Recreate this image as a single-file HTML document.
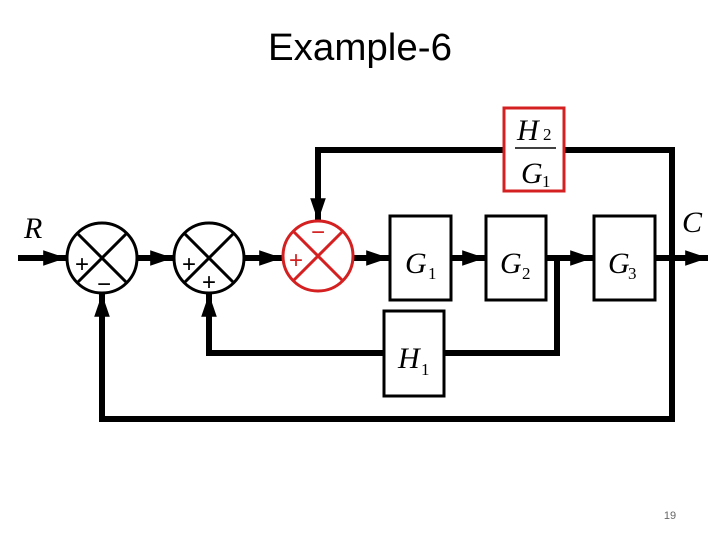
<!DOCTYPE html>
<html><head><meta charset="utf-8"><style>html,body{margin:0;padding:0;background:#fff}svg{display:block}</style></head>
<body>
<svg width="720" height="540" viewBox="0 0 720 540" xmlns="http://www.w3.org/2000/svg">
<defs>
<marker id="a" markerWidth="3.8" markerHeight="2.6" refX="3.8" refY="1.3" orient="auto" markerUnits="strokeWidth"><path d="M0,0L3.8,1.3L0,2.6z" fill="#000"/></marker>
</defs>
<text x="360" y="60" font-family="Liberation Sans, sans-serif" font-size="38" text-anchor="middle" textLength="184" lengthAdjust="spacingAndGlyphs">Example-6</text>
<text x="670" y="519" font-family="Liberation Sans, sans-serif" font-size="11" fill="#666" text-anchor="middle">19</text>
<g stroke="#000" stroke-width="6" fill="none">
<line x1="18" y1="258" x2="66" y2="258" marker-end="url(#a)"/>
<line x1="137" y1="258" x2="173" y2="258" marker-end="url(#a)"/>
<line x1="244" y1="258" x2="282" y2="258" marker-end="url(#a)"/>
<line x1="353" y1="258" x2="389" y2="258" marker-end="url(#a)"/>
<line x1="451" y1="258" x2="485" y2="258" marker-end="url(#a)"/>
<line x1="546" y1="258" x2="593" y2="258" marker-end="url(#a)"/>
<line x1="655" y1="258" x2="708" y2="258" marker-end="url(#a)"/>
<polyline points="557,258 557,353 444,353"/>
<polyline points="384,353 209,353 209,294" marker-end="url(#a)"/>
<polyline points="672,150 672,419 102,419 102,294" marker-end="url(#a)"/>
<polyline points="504,150 318,150 318,221" marker-end="url(#a)"/>
<line x1="564" y1="150" x2="675" y2="150"/>
</g>
<g stroke="#000" stroke-width="3" fill="#fff">
<rect x="390" y="216" width="61" height="84"/>
<rect x="486" y="216" width="60" height="84"/>
<rect x="594" y="216" width="61" height="84"/>
<rect x="384" y="311" width="60" height="85"/>
</g>
<rect x="504" y="108" width="60" height="83" stroke="#d42020" stroke-width="3" fill="#fff"/>
<g stroke-width="3" fill="#fff">
<circle cx="102" cy="258" r="35" stroke="#000"/>
<circle cx="209" cy="258" r="35" stroke="#000"/>
<circle cx="318" cy="256" r="35" stroke="#d42020"/>
</g>
<g stroke-width="3">
<path d="M77,233L127,283M127,233L77,283" stroke="#000"/>
<path d="M184,233L234,283M234,233L184,283" stroke="#000"/>
<path d="M293,231L343,281M343,231L293,281" stroke="#d42020"/>
</g>
<g font-family="Liberation Sans, sans-serif" font-size="24">
<text x="82" y="272" text-anchor="middle">+</text>
<text x="104" y="292" text-anchor="middle">−</text>
<text x="189" y="272" text-anchor="middle">+</text>
<text x="209" y="290" text-anchor="middle">+</text>
<text x="296" y="268" text-anchor="middle" fill="#d42020">+</text>
<text x="318" y="240" text-anchor="middle" fill="#d42020">−</text>
</g>
<g font-family="Liberation Serif, serif" font-style="italic" font-size="30">
<text x="24" y="238">R</text>
<text x="682" y="232">C</text>
<text x="405" y="273">G</text>
<text x="500" y="273">G</text>
<text x="608" y="273">G</text>
<text x="398" y="368">H</text>
<text x="517" y="140">H</text>
<text x="521" y="183">G</text>
</g>
<g font-family="Liberation Serif, serif" font-size="17">
<text x="428" y="279">1</text>
<text x="522" y="279">2</text>
<text x="628" y="279">3</text>
<text x="421" y="375">1</text>
<text x="543" y="140">2</text>
<text x="542" y="187">1</text>
</g>
<line x1="515" y1="148" x2="556" y2="148" stroke="#000" stroke-width="1.5"/>
</svg>
</body></html>
